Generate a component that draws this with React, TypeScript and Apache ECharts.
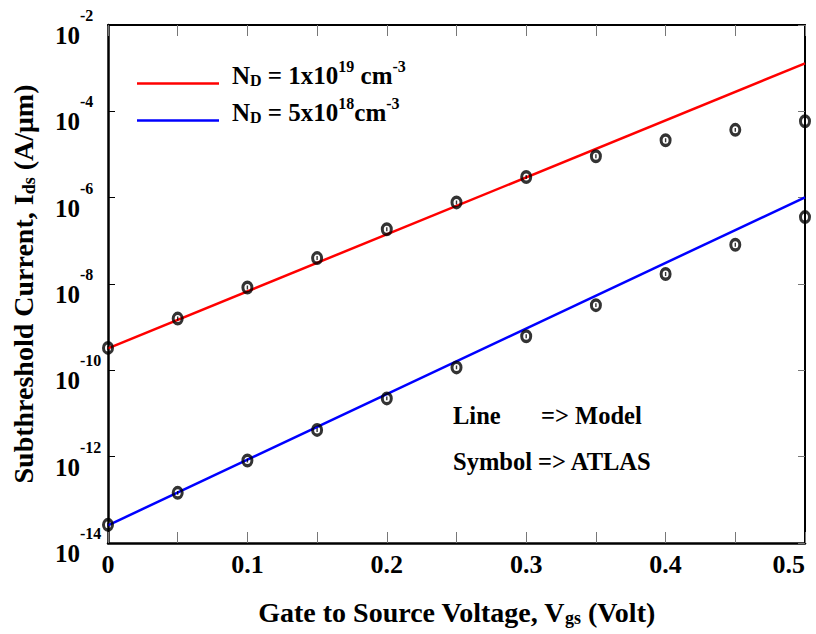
import React, { useEffect, useRef } from 'react';
import * as echarts from 'echarts';

// Gate-to-source voltage (V) for ATLAS symbols
const vgs = [0, 0.05, 0.1, 0.15, 0.2, 0.25, 0.3, 0.35, 0.4, 0.45, 0.5];
// ATLAS simulated subthreshold current (A/um)
const atlasHigh = [3.31e-10, 1.58e-9, 8.3e-9, 3.98e-8, 1.86e-7, 7.76e-7, 3.02e-6, 9.1e-6, 2.14e-5, 3.72e-5, 5.89e-5];
const atlasLow = [2.63e-14, 1.45e-13, 8.13e-13, 4.17e-12, 2.24e-11, 1.17e-10, 6.17e-10, 3.24e-9, 1.7e-8, 8.13e-8, 3.55e-7];
// Model lines (straight on log scale) end points
const modelVgs = [0, 0.5];
const modelHigh = [3.24e-10, 1.29e-3];
const modelLow = [2.57e-14, 1.02e-6];

const seriesNames = ['ND = 1x10^19 cm^-3', 'ND = 5x10^18 cm^-3'];
const legendRich: Record<string, string> = {
  'ND = 1x10^19 cm^-3': '{n|N}{sub|D}{m| = 1x10}{sup|19}{m| cm}{sup|-3}',
  'ND = 5x10^18 cm^-3': '{n|N}{sub|D}{m| = 5x10}{sup|18}{m|cm}{sup|-3}',
};
const xTickLabels = ['0', '0.1', '0.2', '0.3', '0.4', '0.5'];

const FONT = 'Liberation Serif';
const RING =
  'path://M0,-6A6,6,0,1,1,0,6A6,6,0,1,1,0,-6ZM0,-3A3,3,0,1,0,0,3A3,3,0,1,0,0,-3ZM-0.7,-1.7L0.7,-1.7L0.7,1.7L-0.7,1.7Z';

export default function App() {
  const ref = useRef<HTMLDivElement>(null);
  useEffect(() => {
    if (!ref.current) return;
    const chart = echarts.init(ref.current, undefined, { renderer: 'svg' });
    const base = { fontFamily: FONT, fontWeight: 'bold' as const, color: '#000' };
    const annot = { fontFamily: FONT, fontWeight: 'bold', fontSize: 24.5, fill: '#000' };
    const option: any = {
      animation: false,
      backgroundColor: '#fff',
      textStyle: { fontFamily: FONT },
      grid: { left: 108, right: 11, top: 25, bottom: 91 },
      legend: {
        data: seriesNames,
        orient: 'vertical',
        left: 137,
        top: 58,
        padding: 0,
        itemGap: 7,
        itemWidth: 82,
        itemHeight: 2.5,
        icon: 'rect',
        formatter: (name: string) => legendRich[name] || name,
        textStyle: {
          ...base,
          rich: {
            n: { ...base, fontSize: 25, padding: [0, 0, 17, 8] },
            m: { ...base, fontSize: 25, padding: [0, 0, 17, 0] },
            sub: { ...base, fontSize: 16, padding: [0, 0, 7, 0] },
            sup: { ...base, fontSize: 16, padding: [0, 0, 35, 0] },
          },
        },
      },
      xAxis: [
        {
          type: 'value',
          min: 0,
          max: 0.5,
          interval: 0.1,
          position: 'bottom',
          name: '{a|Gate to Source Voltage, V}{sub|gs}{a| (Volt)}',
          nameLocation: 'middle',
          nameGap: 54,
          nameTextStyle: {
            rich: {
              a: { ...base, fontSize: 28 },
              sub: { ...base, fontSize: 18, padding: [12, 0, 0, 0] },
            },
          },
          axisLine: { show: true, onZero: false, lineStyle: { color: '#000', width: 2.5 } },
          axisTick: { show: true, inside: true, length: 11, lineStyle: { color: '#777', width: 1 } },
          minorTick: { show: true, splitNumber: 2, length: 11, lineStyle: { color: '#777', width: 1 } },
          splitLine: { show: false },
          axisLabel: {
            ...base,
            fontSize: 26,
            margin: 8,
            alignMaxLabel: 'right',
            formatter: (v: number) => xTickLabels[Math.round(v * 10)] ?? '',
          },
        },
        {
          type: 'value',
          min: 0,
          max: 0.5,
          interval: 0.1,
          position: 'top',
          axisLine: { show: true, onZero: false, lineStyle: { color: '#000', width: 2 } },
          axisTick: { show: true, inside: true, length: 11, lineStyle: { color: '#777', width: 1 } },
          minorTick: { show: true, splitNumber: 2, length: 11, lineStyle: { color: '#777', width: 1 } },
          splitLine: { show: false },
          axisLabel: { show: false },
        },
      ],
      yAxis: [
        {
          type: 'log',
          logBase: 10,
          min: 1e-14,
          max: 1e-2,
          interval: 2,
          position: 'left',
          name: '{a|Subthreshold Current, I}{sub|ds}{a| (A/μm)}',
          nameLocation: 'middle',
          nameGap: 70,
          nameTextStyle: {
            rich: {
              a: { ...base, fontSize: 28 },
              sub: { ...base, fontSize: 18, padding: [12, 0, 0, 0] },
            },
          },
          axisLine: { show: true, onZero: false, lineStyle: { color: '#000', width: 2.5 } },
          axisTick: { show: true, inside: true, length: 7, lineStyle: { color: '#000', width: 1 } },
          splitLine: { show: false },
          axisLabel: {
            align: 'left',
            margin: 53,
            padding: [21, 0, 0, 0],
            formatter: (v: number) => `{b|10}{s|${Math.round(Math.log10(v))}}`,
            rich: {
              b: { ...base, fontSize: 25 },
              s: { ...base, fontSize: 16, padding: [0, 0, 40, 0] },
            },
          },
        },
        {
          type: 'log',
          logBase: 10,
          min: 1e-14,
          max: 1e-2,
          interval: 2,
          position: 'right',
          axisLine: { show: true, onZero: false, lineStyle: { color: '#000', width: 2 } },
          axisTick: { show: true, inside: true, length: 7, lineStyle: { color: '#777', width: 1 } },
          splitLine: { show: false },
          axisLabel: { show: false },
        },
      ],
      graphic: [
        { type: 'text', left: 453, top: 403, style: { text: 'Line', ...annot } },
        { type: 'text', left: 541, top: 403, style: { text: '=> Model', ...annot } },
        { type: 'text', left: 453, top: 449, style: { text: 'Symbol => ATLAS', ...annot } },
      ],
      series: [
        {
          name: seriesNames[0],
          type: 'line',
          data: modelVgs.map((x, i) => [x, modelHigh[i]]),
          showSymbol: false,
          symbol: 'none',
          lineStyle: { color: '#ff0000', width: 2.5 },
          itemStyle: { color: '#ff0000' },
          z: 3,
        },
        {
          name: seriesNames[1],
          type: 'line',
          data: modelVgs.map((x, i) => [x, modelLow[i]]),
          showSymbol: false,
          symbol: 'none',
          lineStyle: { color: '#0000ff', width: 2.5 },
          itemStyle: { color: '#0000ff' },
          z: 3,
        },
        {
          name: 'ATLAS high',
          type: 'scatter',
          data: vgs.map((x, i) => [x, atlasHigh[i]]),
          symbol: RING,
          symbolSize: [12, 14],
          itemStyle: { color: '#000' },
          clip: false,
          z: 4,
        },
        {
          name: 'ATLAS low',
          type: 'scatter',
          data: vgs.map((x, i) => [x, atlasLow[i]]),
          symbol: RING,
          symbolSize: [12, 14],
          itemStyle: { color: '#000' },
          clip: false,
          z: 4,
        },
      ],
    };
    chart.setOption(option);
    return () => chart.dispose();
  }, []);
  return (
    <div
      ref={ref}
      style={{ position: 'absolute', left: 0, top: 0, width: 816, height: 634, background: '#fff' }}
    />
  );
}
